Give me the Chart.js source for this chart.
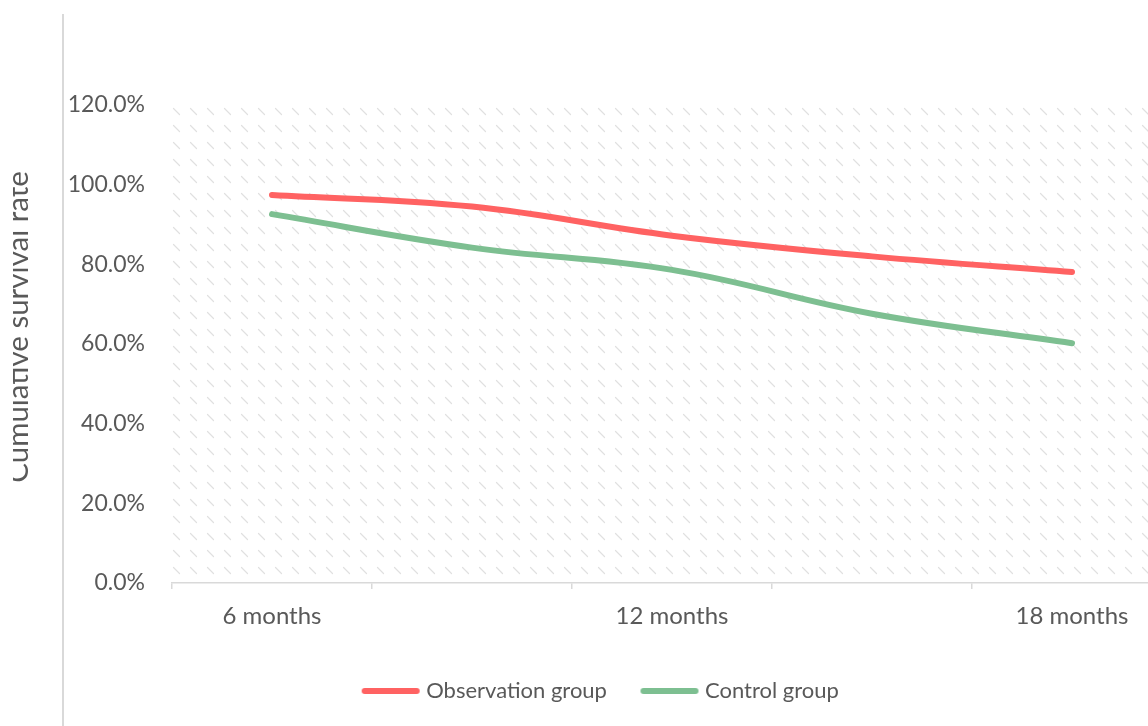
<!DOCTYPE html>
<html>
<head>
<meta charset="utf-8">
<title>Cumulative survival rate</title>
<script src="https://cdn.jsdelivr.net/npm/chart.js@4.4.1/dist/chart.umd.min.js"></script>
<style>
  html, body { margin: 0; padding: 0; background: #ffffff; overflow: hidden; width: 1148px; height: 726px; }
  #wrap { position: absolute; left: -20px; top: 0; width: 1210px; height: 726px; }
</style>
</head>
<body>
<div id="wrap"><canvas id="survival" width="1210" height="726"></canvas></div>
<script>
// Follow-up time points (labels shown on every other point)
const categories = ['6 months', '9 months', '12 months', '15 months', '18 months'];
const xTickLabels = ['6 months', '', '12 months', '', '18 months'];

// Cumulative survival rate (%) per group
const observationRates = [97.4, 94.5, 87.2, 82.0, 78.1];
const controlRates = [92.6, 84.2, 78.6, 67.6, 60.2];

// Value axis
const yMin = 0;
const yMax = 120;
const yStep = 20;

const TEXT = '#595959';
const RULE = '#d9d9d9';
const OBS_COLOR = '#ff6262';
const CTRL_COLOR = '#7dbf91';

// Legend swatch: a thick round-capped line sitting close to the label text
function makeSwatch(color) {
  const c = document.createElement('canvas');
  c.width = 100; c.height = 12;
  const g = c.getContext('2d');
  g.strokeStyle = color;
  g.lineWidth = 6;
  g.lineCap = 'round';
  g.beginPath();
  g.moveTo(38, 6);
  g.lineTo(90, 6);
  g.stroke();
  return c;
}
const legendSwatches = [makeSwatch(OBS_COLOR), makeSwatch(CTRL_COLOR)];

// Light dashed diagonal hatch behind the plot
const hatchPlugin = {
  id: 'hatch',
  beforeDraw(chart) {
    const { ctx, chartArea } = chart;
    const tile = document.createElement('canvas');
    tile.width = 17; tile.height = 17;
    const t = tile.getContext('2d');
    t.strokeStyle = '#e0e0e0';
    t.lineWidth = 1.2;
    t.lineCap = 'round';
    t.beginPath();
    t.moveTo(1.5, 3.5);
    t.lineTo(7.5, 9.5);
    t.stroke();
    const pattern = ctx.createPattern(tile, 'repeat');
    pattern.setTransform(new DOMMatrix().translate(chartArea.left, chartArea.top));
    ctx.save();
    ctx.fillStyle = pattern;
    ctx.fillRect(chartArea.left, chartArea.top, chartArea.right - chartArea.left, chartArea.bottom - chartArea.top);
    ctx.restore();
  }
};

// Outer frame rule and rotated value-axis title
const framePlugin = {
  id: 'frame',
  afterDraw(chart) {
    const { ctx } = chart;
    ctx.save();
    ctx.strokeStyle = RULE;
    ctx.lineWidth = 2;
    ctx.beginPath();
    ctx.moveTo(83, 14);
    ctx.lineTo(83, 726);
    ctx.stroke();

    ctx.beginPath();
    ctx.rect(33, 0, 60, 726);
    ctx.clip();
    ctx.translate(48, 327);
    ctx.rotate(-Math.PI / 2);
    ctx.fillStyle = TEXT;
    ctx.font = '29.5px Lato';
    ctx.textAlign = 'center';
    ctx.textBaseline = 'alphabetic';
    ctx.fillText('Cumulative survival rate', 0, 0);
    ctx.restore();
  }
};

function build() {
  new Chart(document.getElementById('survival'), {
    type: 'line',
    data: {
      labels: categories,
      datasets: [
        {
          label: 'Observation group',
          data: observationRates,
          borderColor: OBS_COLOR,
          backgroundColor: OBS_COLOR,
          borderWidth: 6,
          borderCapStyle: 'round',
          borderJoinStyle: 'round',
          tension: 0.4,
          pointRadius: 0,
          pointHoverRadius: 0,
          fill: false
        },
        {
          label: 'Control group',
          data: controlRates,
          borderColor: CTRL_COLOR,
          backgroundColor: CTRL_COLOR,
          borderWidth: 6,
          borderCapStyle: 'round',
          borderJoinStyle: 'round',
          tension: 0.4,
          pointRadius: 0,
          pointHoverRadius: 0,
          fill: false
        }
      ]
    },
    options: {
      responsive: false,
      animation: false,
      devicePixelRatio: 1,
      layout: { padding: { left: 25, right: 18, top: 105, bottom: 14 } },
      scales: {
        x: {
          type: 'category',
          offset: true,
          grid: {
            display: true,
            offset: true,
            drawOnChartArea: false,
            drawTicks: true,
            tickLength: 6,
            color: RULE,
            lineWidth: 1.5
          },
          border: { display: true, color: RULE, width: 1.5 },
          ticks: {
            autoSkip: false,
            maxRotation: 0,
            padding: 13,
            color: TEXT,
            font: { family: 'Lato', size: 24 },
            callback: (value, index) => xTickLabels[index]
          },
          afterFit(scale) { scale.height = 87; }
        },
        y: {
          min: yMin,
          max: yMax,
          grid: { display: false, drawTicks: false },
          border: { display: false },
          ticks: {
            stepSize: yStep,
            padding: 27,
            color: TEXT,
            font: { family: 'Lato', size: 23 },
            callback: (value) => value.toFixed(1) + '%'
          },
          afterFit(scale) { scale.width = 167; }
        }
      },
      plugins: {
        legend: {
          display: true,
          position: 'bottom',
          labels: {
            usePointStyle: true,
            pointStyleWidth: 77,
            padding: 10,
            color: TEXT,
            font: { family: 'Lato', size: 22 },
            generateLabels(chart) {
              const items = Chart.defaults.plugins.legend.labels.generateLabels(chart);
              items.forEach((item, i) => { item.pointStyle = legendSwatches[i]; });
              return items;
            }
          }
        },
        tooltip: { enabled: false }
      }
    },
    plugins: [hatchPlugin, framePlugin]
  });
}

Promise.all([
  document.fonts.load('24px Lato'),
  document.fonts.load('29.5px Lato')
]).then(build, build);
</script>
</body>
</html>
